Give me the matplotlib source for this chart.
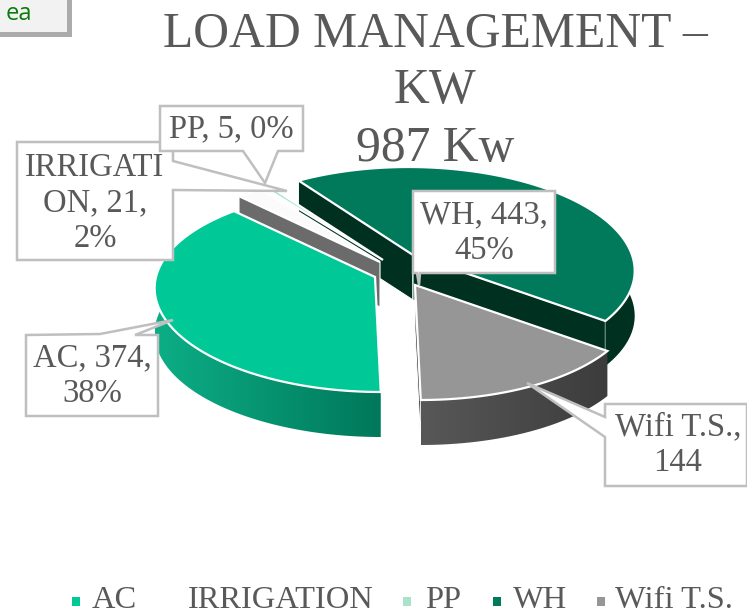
import numpy as np
import matplotlib
matplotlib.use('Agg')
import matplotlib.pyplot as plt
from matplotlib.colors import to_rgb
from matplotlib.patches import Polygon, Rectangle

# datos del grafico
nombres = ['AC', 'IRRIGATION', 'PP', 'WH', 'Wifi T.S.']
valores = [374, 21, 5, 443, 144]
etiquetas = ['AC, 374,\n38%', 'IRRIGATI\nON, 21,\n2%', 'PP, 5, 0%', 'WH, 443,\n45%', 'Wifi T.S.,\n144']
titulo = ['LOAD MANAGEMENT \u2013', 'KW', '987 Kw']

colores = ['#00c997', '#fbfbfb', '#a9e3c9', '#007a5a', '#969696']
lado_izq = ['#0cae86', None, None, '#00301f', '#585858']
lado_der = ['#00785a', None, None, '#00301f', '#3c3c3c']
corte = ['#007a5a', '#6b6b6b', '#fbfbfb', '#00301f', '#2a2a2a']
caras = [[], [0], [], [0, -1], [-1]]
centros = [(375, 277), (380, 262), (383, 260), (413, 255), (415, 285)]
orden = [3, 1, 2, 4, 0]

A, B, K, S, PROF = 219.0, 99.7, 0.133, 0.05, 45

fig = plt.figure(figsize=(7.47, 6.16), dpi=100)
ax = fig.add_axes([0, 0, 1, 1])

SERIF = 'Liberation Serif'
GRIS = '#595959'


def punto(t, c):
    x, y = np.cos(t), np.sin(t)
    f = 1 / (1 + K * y)
    return c[0] + A * x * f - S * B * y * f, c[1] - B * y * f


# angulos a partir de los valores, en sentido horario desde abajo
frac = np.array(valores) / sum(valores)
bordes = -np.pi / 2 - 2 * np.pi * np.concatenate([[0], np.cumsum(frac)])

z = 2.0
for i in orden:
    c = centros[i]
    ts = np.linspace(bordes[i], bordes[i + 1], 160)
    xs, ys = punto(ts, c)
    # caras del corte
    for n in caras[i]:
        ax.add_patch(Polygon([c, (xs[n], ys[n]), (xs[n], ys[n] + PROF), (c[0], c[1] + PROF)],
                             facecolor=corte[i], edgecolor='white', lw=0.8, zorder=z))
    z += 0.01
    # lado exterior con degradado, de izquierda a derecha
    if lado_izq[i] is not None:
        ini, fin = np.array(to_rgb(lado_izq[i])), np.array(to_rgb(lado_der[i]))
        grad = np.linspace(0, 1, 200)[None, :, None] * (fin - ini) + ini
        contorno = Polygon(list(zip(xs, ys)) + list(zip(xs[::-1], ys[::-1] + PROF)),
                           facecolor='none', edgecolor='none', transform=ax.transData)
        ax.add_patch(contorno)
        im = ax.imshow(grad, extent=(xs.min(), xs.max(), ys.max() + PROF, ys.min()), aspect='auto', zorder=z)
        im.set_clip_path(contorno)
    z += 0.01
    # cara superior
    ax.add_patch(Polygon(list(zip(xs, ys)) + [c], facecolor=colores[i], edgecolor='white',
                         lw=1.6, zorder=z, joinstyle='miter'))
    z += 0.01

ax.set_xlim(0, 747)
ax.set_ylim(616, 0)
ax.axis('off')

# titulo
for linea, y in zip(titulo, [34, 91, 149]):
    ax.text(435, y, linea, family=SERIF, fontsize=35.7, color=GRIS, ha='center', va='center', zorder=3)

# cajas de las etiquetas con su flecha
cajas = [
    [(26, 335), (100, 334), (173, 320), (135, 335), (158, 335), (158, 416), (26, 416)],
    [(17, 142), (173, 142), (173, 161), (287, 191), (173, 190), (173, 260), (17, 260)],
    [(160, 106), (303, 106), (303, 151), (278, 151), (265, 183), (243, 151), (160, 151)],
    [(413, 191), (555, 191), (555, 273), (420, 273), (419, 285), (417, 273), (413, 273)],
    [(605, 404), (747, 404), (747, 486), (605, 486), (605, 437), (527, 383), (605, 417)],
]
pos_texto = [(92, 376), (95, 203), (231, 129), (484, 233), (678, 445)]
for caja, txt, p in zip(cajas, etiquetas, pos_texto):
    ax.add_patch(Polygon(caja, facecolor='white', edgecolor='#bfbfbf', lw=1.8, zorder=4))
    ax.text(p[0], p[1], txt, family=SERIF, fontsize=23.5, color=GRIS, ha='center', va='center',
            linespacing=1.22, zorder=5)

# leyenda
marca_x = [72, 170, 403, 493, 597]
texto_x = [92, 188, 425, 513, 615]
for i, nombre in enumerate(nombres):
    ax.add_patch(Rectangle((marca_x[i], 597), 8, 9, facecolor=colores[i] if i != 1 else 'white',
                           edgecolor='none', zorder=3))
    ax.text(texto_x[i], 608.5, nombre, family=SERIF, fontsize=23.4, color=GRIS, ha='left', va='baseline', zorder=3)

# recuadro de arriba a la izquierda
ax.add_patch(Rectangle((-5, -5), 77, 42, facecolor='#ababab', edgecolor='none', zorder=3))
ax.add_patch(Rectangle((-5, -5), 72, 37, facecolor='#f2f2f2', edgecolor='none', zorder=3))
ax.text(6, 20, 'ea', family='Open Sans', fontsize=17, color='#0a7a0a', ha='left', va='baseline', zorder=4)

plt.savefig('out.png', dpi=100)
